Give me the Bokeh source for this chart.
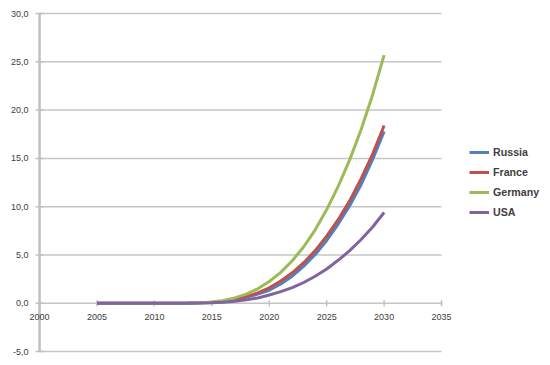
import math
from bokeh.plotting import figure
from bokeh.models import Legend, LegendItem, Range1d
from bokeh.core.properties import value
from bokeh.embed import file_html
from bokeh.resources import INLINE

years = list(range(2005, 2031))
russia = [0.0, 0.0, 0.0, 0.0, 0.0, 0.0, 0.01, 0.01, 0.02, 0.04, 0.08, 0.18, 0.36, 0.62, 0.95, 1.35,
          2.0, 2.8, 3.85, 5.05, 6.5, 8.2, 10.1, 12.3, 14.9, 17.8]
france = [0.0, 0.0, 0.0, 0.0, 0.0, 0.0, 0.01, 0.01, 0.02, 0.04, 0.09, 0.2, 0.39, 0.68, 1.07, 1.6,
          2.3, 3.15, 4.2, 5.45, 6.95, 8.65, 10.6, 12.9, 15.45, 18.4]
germany = [0.0, 0.0, 0.0, 0.0, 0.0, 0.0, 0.01, 0.01, 0.02, 0.05, 0.12, 0.28, 0.55, 0.95, 1.5, 2.25,
           3.2, 4.4, 5.85, 7.6, 9.7, 12.1, 14.85, 18.0, 21.6, 25.7]
usa = [0.0, 0.0, 0.0, 0.0, 0.0, 0.0, 0.0, 0.01, 0.01, 0.02, 0.05, 0.1, 0.2, 0.35, 0.55, 0.85,
       1.2, 1.62, 2.15, 2.8, 3.55, 4.45, 5.45, 6.6, 7.9, 9.4]
series_names = ["Russia", "France", "Germany", "USA"]
colors = ["#4F81BD", "#C0504D", "#9BBB59", "#8064A2"]
x_ticks = [2000, 2005, 2010, 2015, 2020, 2025, 2030, 2035]
x_labels = ["2000", "2005", "2010", "2015", "2020", "2025", "2030", "2035"]
y_ticks = [-5, 0, 5, 10, 15, 20, 25, 30]
y_labels = ["-5,0", "0,0", "5,0", "10,0", "15,0", "20,0", "25,0", "30,0"]

p = figure(width=545, height=358, output_backend="svg", toolbar_location=None,
           x_range=Range1d(1996.6, 2044.05), y_range=Range1d(-5.72, 31.35),
           min_border=0)
p.outline_line_color = None
p.axis.visible = False
p.grid.visible = False
p.background_fill_color = "white"
p.border_fill_color = "white"

font = "Liberation Sans"
label_color = "#404040"
tick_font_size = "9px"
axis_color = "#C0C0C0"
n = len(y_ticks)

# horizontal gridlines spanning the x axis extent
p.segment(x0=[x_ticks[0]] * n, y0=y_ticks, x1=[x_ticks[-1]] * n, y1=y_ticks,
          line_color="#C6C6C6", line_width=1.5)
# y axis line and its outside ticks
p.segment(x0=[x_ticks[0]], y0=[y_ticks[0]], x1=[x_ticks[0]], y1=[y_ticks[-1]],
          line_color=axis_color, line_width=2.5)
p.scatter(x=[x_ticks[0]] * n, y=y_ticks, marker="dash", size=8, line_color=axis_color, line_width=1.5)
# x axis ticks on the zero line
p.scatter(x=x_ticks, y=[0] * len(x_ticks), marker="dash", angle=math.pi / 2, size=6,
          line_color=axis_color, line_width=1.5)

# tick labels
p.text(x=[x_ticks[0]] * n, y=y_ticks, text=y_labels, text_font=value(font),
       text_font_size=tick_font_size, text_color=label_color, text_align="right",
       text_baseline="middle", x_offset=-11)
p.text(x=x_ticks, y=[0] * len(x_ticks), text=x_labels, text_font=value(font),
       text_font_size=tick_font_size, text_color=label_color, text_align="center",
       text_baseline="top", y_offset=11)

items = []
for name, vals, col in zip(series_names, [russia, france, germany, usa], colors):
    r = p.line(years, vals, line_color=col, line_width=3)
    items.append(LegendItem(label=name, renderers=[r]))

legend = Legend(items=items, location=(469, 139))
legend.border_line_color = None
legend.background_fill_alpha = 0
legend.label_text_font = font
legend.label_text_font_style = "bold"
legend.label_text_font_size = "8pt"
legend.label_text_color = label_color
legend.glyph_width = 20
legend.glyph_height = 14
legend.spacing = 6
legend.label_standoff = 4
legend.padding = 0
legend.margin = 0
p.add_layout(legend)

open("out.html", "w").write(file_html(p, INLINE))
